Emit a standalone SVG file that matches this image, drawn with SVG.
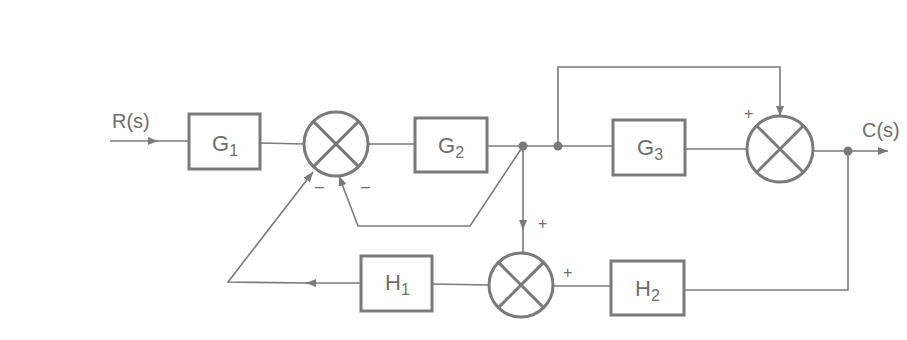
<svg xmlns="http://www.w3.org/2000/svg" width="907" height="340" viewBox="0 0 907 340">
<defs>
<marker id="arr" viewBox="0 0 10 8" refX="10" refY="4" markerWidth="10" markerHeight="8" markerUnits="userSpaceOnUse" orient="auto">
<path d="M0,0 L10,4 L0,8 Z" fill="#7a7a7a"/>
</marker>
</defs>
<style>
.box{fill:#fff;stroke:#7a7a7a;stroke-width:3}
.sum{fill:#fff;stroke:#7a7a7a;stroke-width:3}
.x{stroke:#7a7a7a;stroke-width:3}
.ln{fill:none;stroke:#7a7a7a;stroke-width:1.6}
.lbl{font-family:"Liberation Sans",Arial,sans-serif;font-size:22px;fill:#6e6e6e}
.sub{font-size:16px}
.sg{font-family:"Liberation Sans",Arial,sans-serif;font-size:16px;fill:#6e6e6e}
.dot{fill:#7a7a7a}
</style>
<rect width="907" height="340" fill="#fff"/>
<g id="connectors">
<path class="ln" d="M110,141 L158,141" marker-end="url(#arr)"/>
<path class="ln" d="M156,141 L189,141"/>
<path class="ln" d="M260,143 L305,144"/>
<path class="ln" d="M368,144 L415,144"/>
<path class="ln" d="M487,146 L613,146"/>
<path class="ln" d="M685,149 L747,149"/>
<path class="ln" d="M813,151 L888,151" marker-end="url(#arr)"/>
<path class="ln" d="M558,146 L558,67 L780,67 L780,116" marker-end="url(#arr)"/>
<path class="ln" d="M848,151 L848,290 L684,290"/>
<path class="ln" d="M611,286 L553,286"/>
<path class="ln" d="M523,146 L523,230" marker-end="url(#arr)"/>
<path class="ln" d="M523,228 L523,253"/>
<path class="ln" d="M490,285 L432,284"/>
<path class="ln" d="M361,283 L306,283" marker-end="url(#arr)"/>
<path class="ln" d="M308,283 L228,282 L313,172" marker-end="url(#arr)"/>
<path class="ln" d="M523,146 L470,226 L358,226 L339,176" marker-end="url(#arr)"/>
<circle class="dot" cx="523" cy="146" r="4.5"/>
<circle class="dot" cx="558" cy="146" r="4.5"/>
<circle class="dot" cx="848" cy="151" r="4.5"/>
</g>
<g id="G1">
<rect class="box" x="189" y="114" width="71" height="55"/>
<text class="lbl" x="212" y="151">G<tspan class="sub" dy="5">1</tspan></text>
</g>
<g id="G2">
<rect class="box" x="415" y="118" width="72" height="54"/>
<text class="lbl" x="438" y="153">G<tspan class="sub" dy="5">2</tspan></text>
</g>
<g id="G3">
<rect class="box" x="613" y="120" width="72" height="55"/>
<text class="lbl" x="637" y="155">G<tspan class="sub" dy="5">3</tspan></text>
</g>
<g id="H1">
<rect class="box" x="361" y="256" width="71" height="55"/>
<text class="lbl" x="385" y="290">H<tspan class="sub" dy="5">1</tspan></text>
</g>
<g id="H2">
<rect class="box" x="611" y="261" width="73" height="54"/>
<text class="lbl" x="635" y="296">H<tspan class="sub" dy="5">2</tspan></text>
</g>
<g id="sum1">
<circle class="sum" cx="336" cy="144" r="32"/>
<path class="x" d="M313.4,121.4 L358.6,166.6 M358.6,121.4 L313.4,166.6"/>
<text class="sg" x="315" y="192">–</text>
<text class="sg" x="361" y="192">–</text>
</g>
<g id="sum2">
<circle class="sum" cx="780" cy="149" r="33"/>
<path class="x" d="M756.7,125.7 L803.3,172.3 M803.3,125.7 L756.7,172.3"/>
<text class="sg" x="744" y="119">+</text>
</g>
<g id="sum3">
<circle class="sum" cx="521" cy="285" r="32"/>
<path class="x" d="M498.4,262.4 L543.6,307.6 M543.6,262.4 L498.4,307.6"/>
<text class="sg" x="538" y="229">+</text>
<text class="sg" x="563" y="278">+</text>
</g>
<g id="labels">
<text class="lbl" x="112" y="128" style="font-size:20px">R(s)</text>
<text class="lbl" x="862" y="137" style="font-size:20px">C(s)</text>
</g>
</svg>
